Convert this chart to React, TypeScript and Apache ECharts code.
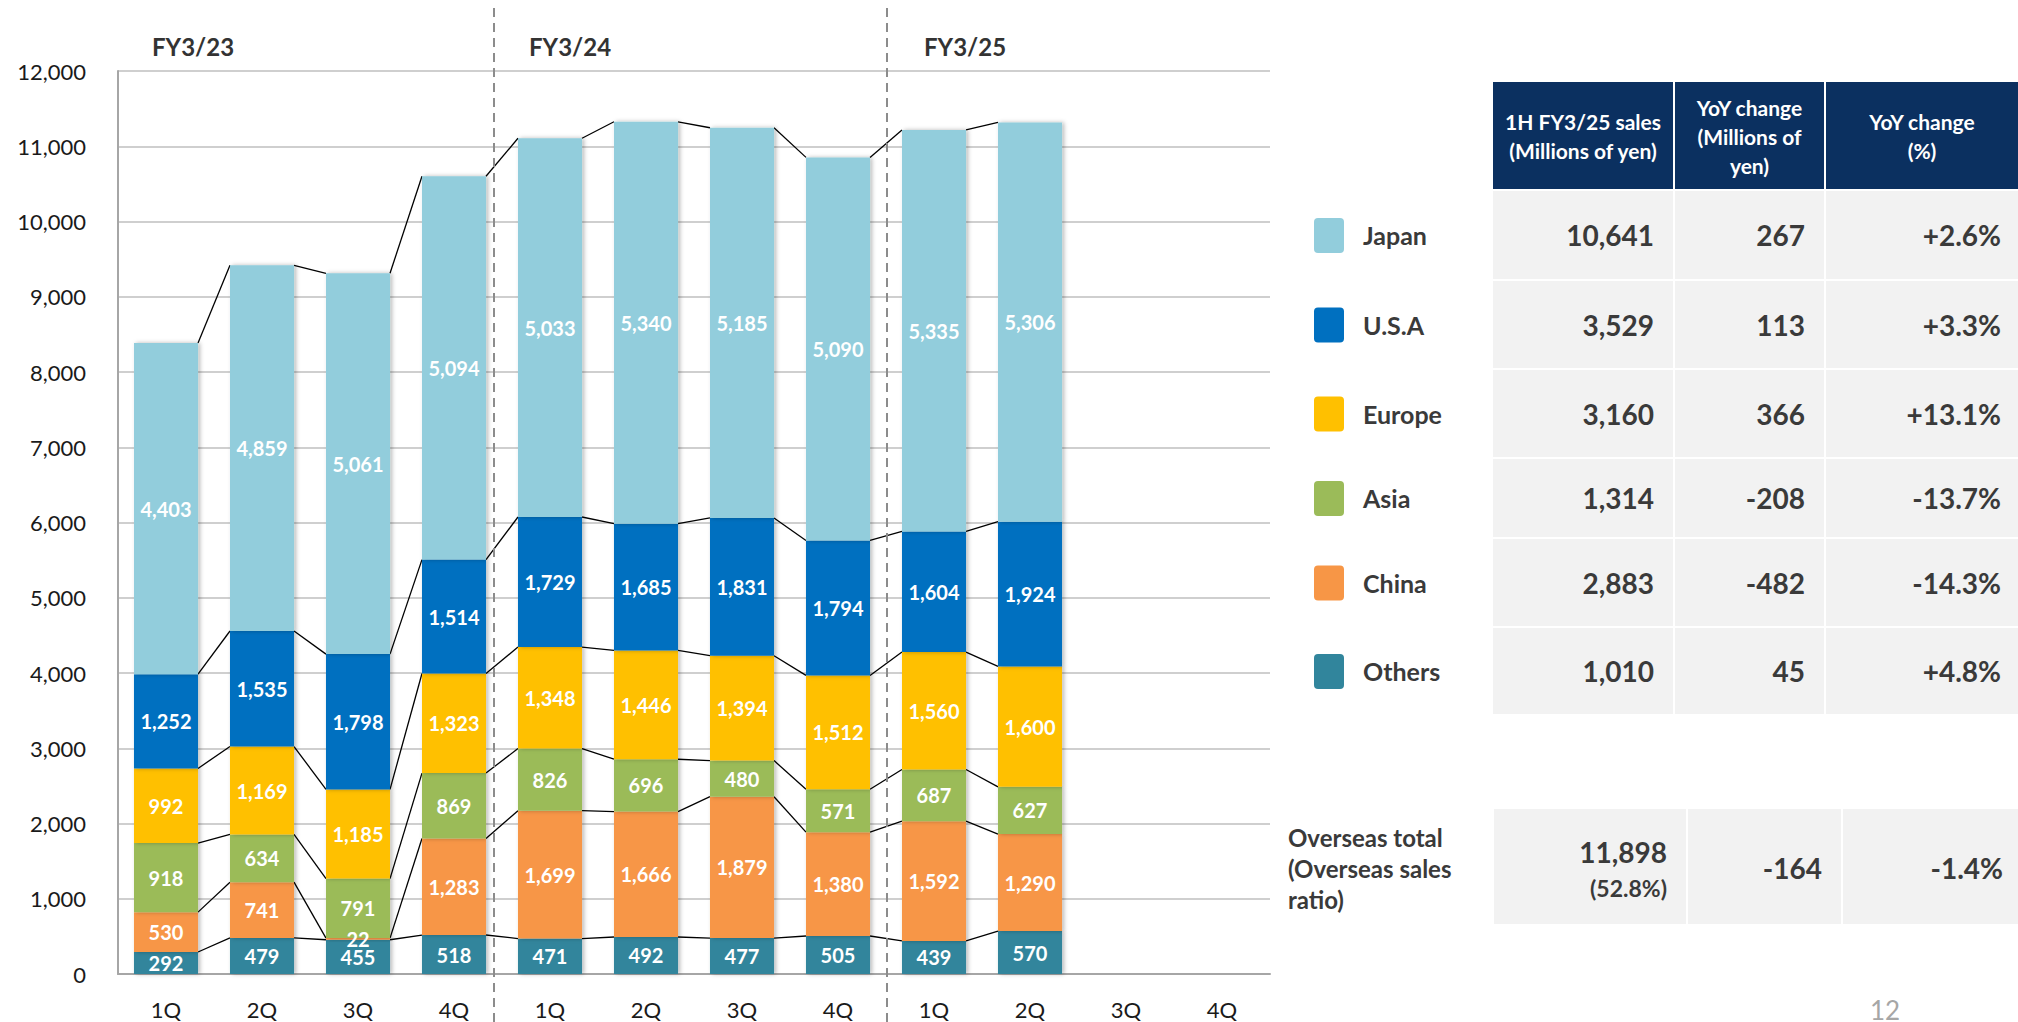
import React, { useEffect, useRef } from 'react';
import * as echarts from 'echarts';

// ---------- data ----------
const fiscalYears = ['FY3/23', 'FY3/24', 'FY3/25'];
const quarters = ['1Q', '2Q', '3Q', '4Q'];
const categories = fiscalYears.flatMap((fy) => quarters.map((q) => `${fy} ${q}`));

const yMax = 12000;
const yInterval = 1000;

// stack order bottom -> top
const seriesNames = ['Others', 'China', 'Asia', 'Europe', 'U.S.A', 'Japan'];
const others = [292, 479, 455, 518, 471, 492, 477, 505, 439, 570];
const china = [530, 741, 22, 1283, 1699, 1666, 1879, 1380, 1592, 1290];
const asia = [918, 634, 791, 869, 826, 696, 480, 571, 687, 627];
const europe = [992, 1169, 1185, 1323, 1348, 1446, 1394, 1512, 1560, 1600];
const usa = [1252, 1535, 1798, 1514, 1729, 1685, 1831, 1794, 1604, 1924];
const japan = [4403, 4859, 5061, 5094, 5033, 5340, 5185, 5090, 5335, 5306];
const seriesValues = [others, china, asia, europe, usa, japan];
const seriesColors = ['#31859C', '#F79646', '#9BBB59', '#FFC000', '#0070C0', '#92CDDC'];

// table (top -> bottom)
const tableRegions = ['Japan', 'U.S.A', 'Europe', 'Asia', 'China', 'Others'];
const tableColors = ['#92CDDC', '#0070C0', '#FFC000', '#9BBB59', '#F79646', '#31859C'];
const sales1H = [10641, 3529, 3160, 1314, 2883, 1010];
const yoyAmount = [267, 113, 366, -208, -482, 45];
const yoyPercent = [2.6, 3.3, 13.1, -13.7, -14.3, 4.8];
const tableHeaders = ['1H FY3/25 sales\n(Millions of yen)', 'YoY change\n(Millions of\nyen)', 'YoY change\n(%)'];
const overseasLabel = 'Overseas total\n(Overseas sales\nratio)';
const overseasTotal = 11898;
const overseasRatio = 52.8;
const overseasYoy = -164;
const overseasYoyPct = -1.4;
const pageNumber = '12';

// ---------- helpers ----------
const fmt = (v: number) => v.toLocaleString('en-US');
const fmtSigned = (v: number) => (v < 0 ? '-' + fmt(Math.abs(v)) : fmt(v));
const fmtPct = (v: number) => (v > 0 ? '+' : v < 0 ? '-' : '') + Math.abs(v).toFixed(1) + '%';

const FONT = 'Lato, "Open Sans", "DejaVu Sans", sans-serif';
const TXT = '#3a3a3a';

function buildConnectorData() {
  const n = others.length;
  const cum: number[][] = [];
  for (let i = 0; i < n; i++) {
    let s = 0;
    cum.push(seriesValues.map((arr) => (s += arr[i])));
  }
  const out: number[][] = [];
  for (let i = 0; i < n - 1; i++) {
    for (let l = 0; l < seriesValues.length; l++) {
      out.push([i, cum[i][l], cum[i + 1][l]]);
    }
  }
  return out;
}

function buildGraphics() {
  const g: any[] = [];
  // dashed separators
  [494, 887].forEach((x) =>
    g.push({
      type: 'line',
      z: 100,
      shape: { x1: x, y1: 8, x2: x, y2: 1022 },
      style: { stroke: '#8c8c8c', lineWidth: 2, lineDash: [9, 6] },
    })
  );
  // fiscal year titles
  [152, 529, 924].forEach((x, i) =>
    g.push({
      type: 'text',
      x,
      y: 46,
      style: { text: fiscalYears[i], fill: '#333', font: `bold 24px ${FONT}`, align: 'left', verticalAlign: 'middle' },
    })
  );

  const cols = [
    [1493, 1673],
    [1675, 1824],
    [1826, 2018],
  ];
  // header
  cols.forEach(([x0, x1], i) => {
    g.push({ type: 'rect', shape: { x: x0, y: 82, width: x1 - x0, height: 107 }, style: { fill: '#0B3060' } });
    g.push({
      type: 'text',
      x: (x0 + x1) / 2,
      y: 136,
      style: {
        text: tableHeaders[i],
        fill: '#fff',
        font: `bold 21px ${FONT}`,
        lineHeight: 29,
        align: 'center',
        verticalAlign: 'middle',
      },
    });
  });
  const rowTop = [191, 281, 370, 459, 539, 628];
  const rowBot = [279, 368, 457, 537, 626, 714];
  const valueRight = [1654, 1805, 2001];
  tableRegions.forEach((name, r) => {
    const y0 = rowTop[r];
    const h = rowBot[r] - y0;
    const cy = y0 + h / 2;
    cols.forEach(([x0, x1]) =>
      g.push({ type: 'rect', shape: { x: x0, y: y0, width: x1 - x0, height: h }, style: { fill: '#F2F2F2' } })
    );
    const vals = [fmt(sales1H[r]), fmtSigned(yoyAmount[r]), fmtPct(yoyPercent[r])];
    vals.forEach((t, c) =>
      g.push({
        type: 'text',
        x: valueRight[c],
        y: cy,
        style: { text: t, fill: TXT, font: `bold 28px ${FONT}`, align: 'right', verticalAlign: 'middle' },
      })
    );
    g.push({
      type: 'rect',
      shape: { x: 1314, y: cy - 17, width: 30, height: 35, r: 4 },
      style: { fill: tableColors[r] },
    });
    g.push({
      type: 'text',
      x: 1363,
      y: cy,
      style: { text: name, fill: TXT, font: `bold 25px ${FONT}`, align: 'left', verticalAlign: 'middle' },
    });
  });
  // overseas total box
  const ocols = [
    [1494, 1686],
    [1688, 1841],
    [1843, 2018],
  ];
  ocols.forEach(([x0, x1]) =>
    g.push({ type: 'rect', shape: { x: x0, y: 809, width: x1 - x0, height: 115 }, style: { fill: '#F2F2F2' } })
  );
  g.push({
    type: 'text',
    x: 1288,
    y: 868,
    style: { text: overseasLabel, fill: TXT, font: `bold 24px ${FONT}`, lineHeight: 31, align: 'left', verticalAlign: 'middle' },
  });
  g.push({
    type: 'text',
    x: 1667,
    y: 852,
    style: { text: fmt(overseasTotal), fill: TXT, font: `bold 28px ${FONT}`, align: 'right', verticalAlign: 'middle' },
  });
  g.push({
    type: 'text',
    x: 1667,
    y: 888,
    style: { text: `(${overseasRatio.toFixed(1)}%)`, fill: TXT, font: `bold 23px ${FONT}`, align: 'right', verticalAlign: 'middle' },
  });
  g.push({
    type: 'text',
    x: 1822,
    y: 868,
    style: { text: fmtSigned(overseasYoy), fill: TXT, font: `bold 28px ${FONT}`, align: 'right', verticalAlign: 'middle' },
  });
  g.push({
    type: 'text',
    x: 2003,
    y: 868,
    style: { text: fmtPct(overseasYoyPct), fill: TXT, font: `bold 28px ${FONT}`, align: 'right', verticalAlign: 'middle' },
  });
  g.push({
    type: 'text',
    x: 1885,
    y: 1010,
    style: { text: pageNumber, fill: '#a6a6a6', font: `26px ${FONT}`, align: 'center', verticalAlign: 'middle' },
  });
  return g;
}

const BAR_RATIO = 0.667;

export default function App() {
  const ref = useRef<HTMLDivElement>(null);
  useEffect(() => {
    if (!ref.current) return;
    const chart = echarts.init(ref.current, undefined, { renderer: 'svg' });
    const barSeries = seriesNames.map((name, i) => ({
      name,
      type: 'bar',
      stack: 'total',
      barWidth: `${BAR_RATIO * 100}%`,
      data: seriesValues[i],
      itemStyle: {
        color: seriesColors[i],
        shadowColor: 'rgba(0,0,0,0.28)',
        shadowBlur: 4,
        shadowOffsetX: 2,
        shadowOffsetY: 0,
      },
      label: {
        show: true,
        position: 'inside',
        color: '#fff',
        fontWeight: 'bold',
        fontSize: 20,
        fontFamily: FONT,
        formatter: (p: any) => fmt(p.value),
      },
      z: 3,
    }));
    chart.setOption({
      animation: false,
      textStyle: { fontFamily: FONT },
      grid: { left: 118, right: 748, top: 71, bottom: 48, containLabel: false },
      xAxis: {
        type: 'category',
        data: categories,
        boundaryGap: true,
        axisLine: { show: true, lineStyle: { color: '#a6a6a6', width: 2 } },
        axisTick: { show: false },
        axisLabel: {
          color: '#1a1a1a',
          fontSize: 22,
          fontFamily: FONT,
          margin: 24,
          interval: 0,
          formatter: (v: string) => v.split(' ')[1],
        },
      },
      yAxis: {
        type: 'value',
        min: 0,
        max: yMax,
        interval: yInterval,
        axisLine: { show: true, lineStyle: { color: '#a6a6a6', width: 2 } },
        axisTick: { show: false },
        axisLabel: {
          color: '#1a1a1a',
          fontSize: 22,
          fontFamily: FONT,
          margin: 32,
          formatter: (v: number) => fmt(v),
        },
        splitLine: { show: true, lineStyle: { color: '#bfbfbf', width: 1.5 } },
      },
      series: [
        ...barSeries,
        {
          type: 'custom',
          name: 'connectors',
          data: buildConnectorData(),
          encode: { x: 0, y: 1 },
          z: 2,
          silent: true,
          renderItem: (params: any, api: any) => {
            const i = api.value(0);
            const p1 = api.coord([i, api.value(1)]);
            const p2 = api.coord([i + 1, api.value(2)]);
            const half = (api.size([1, 0])[0] * BAR_RATIO) / 2;
            return {
              type: 'line',
              shape: { x1: p1[0] + half, y1: p1[1], x2: p2[0] - half, y2: p2[1] },
              style: { stroke: '#000', lineWidth: 1.3 },
            };
          },
        },
      ],
      graphic: buildGraphics(),
    });
    return () => chart.dispose();
  }, []);
  return (
    <div
      ref={ref}
      style={{ position: 'fixed', left: 0, top: 0, width: 2018, height: 1022, background: '#fff' }}
    />
  );
}
